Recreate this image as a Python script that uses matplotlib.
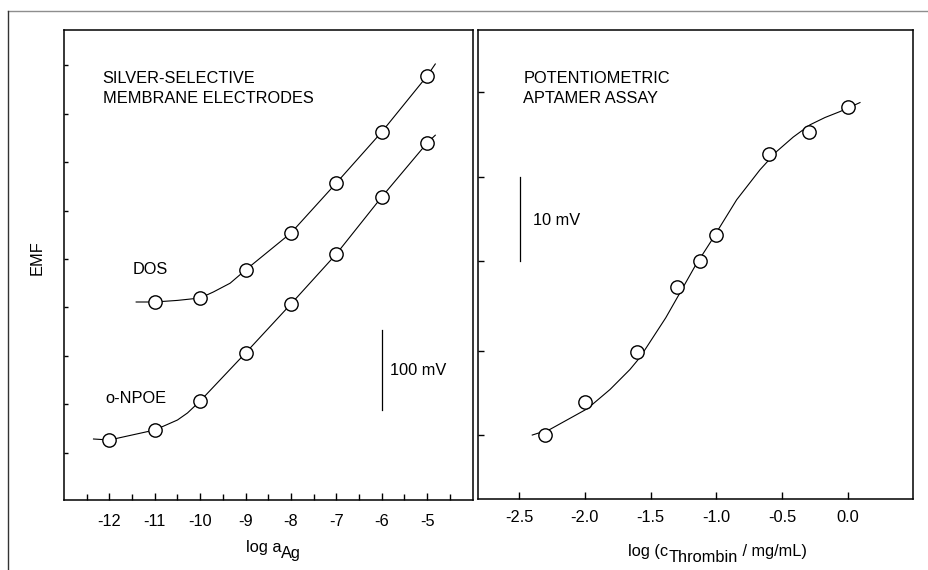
#!/usr/bin/env python3
"""Two potentiometric panels: Ag+ membrane electrodes and aptamer assay."""

import matplotlib
matplotlib.use('Agg')
import matplotlib.pyplot as plt
from matplotlib.lines import Line2D

plt.rcParams['font.family'] = ['Liberation Sans', 'DejaVu Sans']
plt.rcParams['font.size'] = 11.8
plt.rcParams['axes.unicode_minus'] = False

W, H = 929, 570

# --- left panel: silver-selective electrodes (EMF in mV, arbitrary offset)
log_a_ag = [-12, -11, -10, -9, -8, -7, -6, -5]
dos_x = [-11, -10, -9, -8, -7, -6, -5]
dos_emf = [247.5, 252.5, 287.5, 333.75, 396.25, 460, 530]
npoe_x = log_a_ag
npoe_emf = [75, 87.5, 123.75, 183.75, 245, 307.5, 378.75, 446.25]

# fitted curves as drawn in the figure
dos_curve_x = [-11.41, -11, -10.5, -10, -9.71, -9.34, -9, -8, -7, -6, -5, -4.82]
dos_curve_y = [247.5, 247.5, 249.5, 252.5, 260, 271, 287.5, 333.75, 396.25, 460, 530, 545]
npoe_curve_x = [-12.35, -12, -11, -10.5, -10.28, -10, -9, -8, -7, -6, -5, -4.82]
npoe_curve_y = [76.25, 75, 87.5, 100, 108.75, 123.75, 183.75, 245, 307.5, 378.75, 446.25, 456]

left_yticks = [58.75, 120, 180, 241.25, 301.25, 361.25, 422.5, 482.5, 543.75]

# --- right panel: potentiometric aptamer assay
log_c_thrombin = [-2.3, -2.0, -1.6, -1.3, -1.125, -1.0, -0.6, -0.3, 0.0]
aptamer_emf = [0, 3.88, 9.88, 17.5, 20.6, 23.6, 33.2, 35.8, 38.7]

apt_curve_x = [-2.399, -2.264, -1.981, -1.808, -1.657, -1.581, -1.385, -1.277,
               -1.163, -1.041, -0.846, -0.669, -0.542, -0.416, -0.289, -0.175,
               -0.061, 0.091]
apt_curve_y = [0.04, 0.71, 3.14, 5.41, 7.76, 9.18, 13.85, 16.79,
               19.92, 22.86, 27.76, 31.29, 33.45, 35.15, 36.59, 37.45,
               38.15, 39.21]

right_yticks = [0, 10, 20.6, 30.5, 40.5]
right_xticks = [-2.5, -2.0, -1.5, -1.0, -0.5, 0.0]


def frac(x_px, y_px):
    """Pixel position (from top-left) to figure fraction."""
    return x_px / W, 1 - y_px / H


def pieces(fig, x_px, y_px, parts):
    """Write text pieces one after another, each with its own baseline drop."""
    renderer = fig.canvas.get_renderer()
    x = x_px
    for s, drop in parts:
        fx, fy = frac(x, y_px + drop)
        t = fig.text(fx, fy, s, ha='left', va='baseline')
        x = t.get_window_extent(renderer).x1


fig = plt.figure(figsize=(W / 100, H / 100), dpi=100)

# outer frame (only top and left edges visible)
fig.add_artist(Line2D([8 / W, 1], [1 - 11 / H] * 2, color='#8e8e8e', lw=1.0))
fig.add_artist(Line2D([8 / W] * 2, [0, 1 - 11 / H], color='#333333', lw=1.0))

marker = dict(marker='o', ms=9.6, mfc='white', mec='black', mew=1.0, ls='none', zorder=3)

# left axes
ax1 = fig.add_axes([64 / W, 70 / H, 408.5 / W, 470 / H])
ax1.plot(dos_curve_x, dos_curve_y, color='black', lw=0.8)
ax1.plot(npoe_curve_x, npoe_curve_y, color='black', lw=0.8)
ax1.plot(dos_x, dos_emf, **marker)
ax1.plot(npoe_x, npoe_emf, **marker)
ax1.set_xlim(-13, -4)
ax1.set_ylim(0, 587.5)
ax1.set_xticks(log_a_ag)
ax1.set_xticklabels([str(v) for v in log_a_ag])
ax1.set_xticks([v - 0.5 for v in log_a_ag] + [-4.5], minor=True)
ax1.set_yticks(left_yticks)
ax1.tick_params(axis='y', labelleft=False, direction='in', length=3, width=1)
ax1.tick_params(axis='x', which='major', direction='in', length=5.2, width=1, pad=10)
ax1.tick_params(axis='x', which='minor', direction='in', length=4, width=1)

ax1.text(-12.15, 521, 'SILVER-SELECTIVE', ha='left', va='baseline')
ax1.text(-12.15, 496.6, 'MEMBRANE ELECTRODES', ha='left', va='baseline')
ax1.text(-11.49, 282.5, 'DOS', ha='left', va='baseline')
ax1.text(-12.09, 120.9, 'o-NPOE', ha='left', va='baseline')
ax1.plot([-6.0, -6.0], [112.5, 212.5], color='black', lw=0.9)
ax1.text(-5.815, 156, '100 mV', ha='left', va='baseline')

# right axes
ax2 = fig.add_axes([478.3 / W, 70.7 / H, 435 / W, 469.3 / H])
ax2.plot(apt_curve_x, apt_curve_y, color='black', lw=0.8)
ax2.plot(log_c_thrombin, aptamer_emf, **marker)
ax2.set_xlim(-2.809, 0.496)
ax2.set_ylim(-7.53, 47.76)
ax2.set_xticks(right_xticks)
ax2.set_xticklabels(['%.1f' % v for v in right_xticks])
ax2.set_yticks(right_yticks)
ax2.tick_params(axis='y', labelleft=False, direction='in', length=4, width=1)
ax2.tick_params(axis='x', direction='in', length=5.2, width=1, pad=7.5)

ax2.text(-2.467, 41.5, 'POTENTIOMETRIC', ha='left', va='baseline')
ax2.text(-2.467, 39.14, 'APTAMER ASSAY', ha='left', va='baseline')
ax2.plot([-2.492, -2.492], [20.6, 30.5], color='black', lw=0.9)
ax2.text(-2.396, 24.8, '10 mV', ha='left', va='baseline')

for ax in (ax1, ax2):
    for sp in ax.spines.values():
        sp.set_linewidth(1.1)

# axis titles
fx, fy = frac(37.5, 258)
fig.text(fx, fy, 'EMF', rotation=90, ha='center', va='center')
pieces(fig, 245.7, 551.7, [('log a', 0), ('Ag', 6)])
pieces(fig, 628.3, 556, [('log (c', 0), ('Thrombin', 5.7), (' / mg/mL)', 0)])

fig.savefig('out.png', dpi=100)
